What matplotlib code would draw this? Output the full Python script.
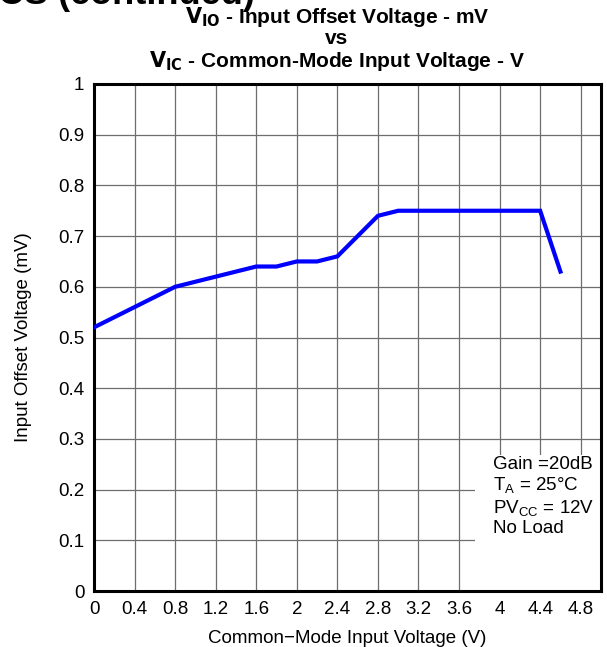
import matplotlib
matplotlib.use("Agg")
import matplotlib.pyplot as plt
from matplotlib.patches import Rectangle

plt.rcParams['font.family'] = ['Liberation Sans', 'DejaVu Sans']

vic = [0.0, 0.4, 0.8, 1.2, 1.6, 1.8, 2.0, 2.2, 2.4, 2.8, 3.0, 3.2, 3.6, 4.0, 4.4, 4.6]
vio = [0.52, 0.56, 0.60, 0.62, 0.64, 0.64, 0.65, 0.65, 0.66, 0.74, 0.75, 0.75, 0.75, 0.75, 0.75, 0.63]

xticks = [0, 0.4, 0.8, 1.2, 1.6, 2, 2.4, 2.8, 3.2, 3.6, 4, 4.4, 4.8]
xtick_labels = ['0', '0.4', '0.8', '1.2', '1.6', '2', '2.4', '2.8', '3.2', '3.6', '4', '4.4', '4.8']
yticks = [0, 0.1, 0.2, 0.3, 0.4, 0.5, 0.6, 0.7, 0.8, 0.9, 1]
ytick_labels = ['0', '0.1', '0.2', '0.3', '0.4', '0.5', '0.6', '0.7', '0.8', '0.9', '1']

W, H = 607, 647
fig = plt.figure(figsize=(W / 100, H / 100), dpi=100)
left, right, top, bottom = 94, 601, 84, 591
ax = fig.add_axes([left / W, 1 - bottom / H, (right - left) / W, (bottom - top) / H])

ax.set_xlim(0, 5)
ax.set_ylim(0, 1)
ax.set_xticks(xticks)
ax.set_xticklabels(xtick_labels)
ax.set_yticks(yticks)
ax.set_yticklabels(ytick_labels)
ax.tick_params(length=0, labelsize=13.5, pad=7)
ax.grid(True, color='#6e6e6e', linewidth=0.9)
ax.set_axisbelow(True)
for s in ax.spines.values():
    s.set_linewidth(2.2)
    s.set_color('black')

ax.plot(vic, vio, color='#0000ff', linewidth=3.0, solid_joinstyle='miter', zorder=3)

ax.add_patch(Rectangle((3.76, 0), 5 - 3.76, 0.268, facecolor='white', edgecolor='none', zorder=2))
ax.text(3.93, 0.266, "Gain =20dB\n$\\mathregular{T_A}$ = 25°C\n$\\mathregular{PV_{CC}}$ = 12V\nNo Load",
        fontsize=13.5, va='top', ha='left', linespacing=1.15, zorder=4)

ax.set_xlabel("Common\u2212Mode Input Voltage (V)", fontsize=13.5, labelpad=9)
ax.set_ylabel("Input Offset Voltage (mV)", fontsize=13.5, labelpad=19)

cx = 337 / W
fig.text(cx, 1 - 17 / H, r"$\mathregular{\mathbf{V_{IO}}}$ - Input Offset Voltage - mV", ha='center', va='center', fontsize=15, fontweight='bold')
fig.text(cx, 1 - 38 / H, "vs", ha='center', va='center', fontsize=15, fontweight='bold')
fig.text(cx, 1 - 61 / H, r"$\mathregular{\mathbf{V_{IC}}}$ - Common-Mode Input Voltage - V", ha='center', va='center', fontsize=15, fontweight='bold')
fig.text(255 / W, 1 - 4 / H, "ICS (continued)", ha='right', va='baseline', fontsize=26, fontweight='bold')

fig.savefig("out.png", dpi=100)
